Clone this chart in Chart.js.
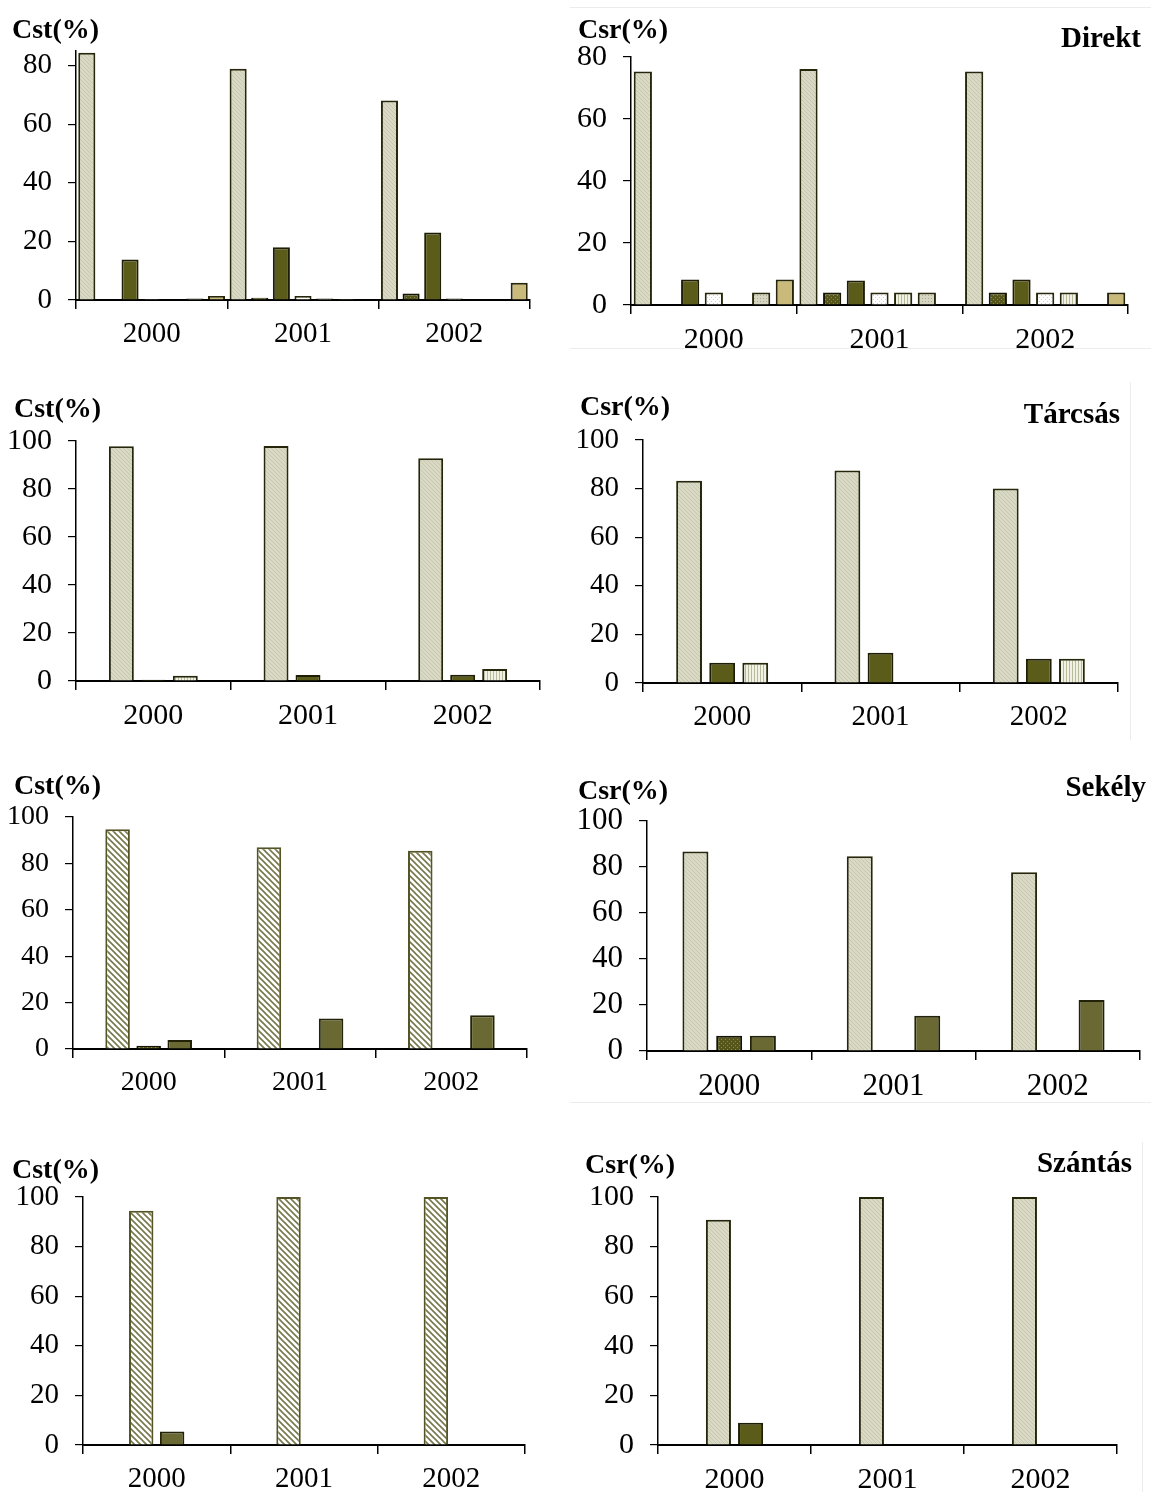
<!DOCTYPE html>
<html>
<head>
<meta charset="utf-8">
<script src="https://cdn.jsdelivr.net/npm/chart.js@4.4.1/dist/chart.umd.min.js"></script>
<style>
  html, body { margin: 0; padding: 0; background: #ffffff; }
  body { width: 1151px; height: 1492px; position: relative; overflow: hidden; }
  canvas { position: absolute; }
  .lbl { position: absolute; font-family: "Liberation Serif", "Times New Roman", serif; font-weight: bold; color: #000; line-height: 1; white-space: nowrap; }
  .frame { position: absolute; background: #ececec; }
</style>
</head>
<body>
<div class="frame" style="left:570px; top:7px; width:581px; height:1px;"></div>
<div class="frame" style="left:570px; top:348px; width:581px; height:1px;"></div>
<div class="frame" style="left:1130px; top:382px; width:1px; height:358px;"></div>
<div class="frame" style="left:570px; top:1102px; width:581px; height:1px;"></div>
<div class="frame" style="left:1142px; top:1142px; width:1px; height:350px;"></div>
<script>
// ---------- DATA ----------
const categories = ['2000', '2001', '2002'];
const yTitleCst = 'Cst(%)';
const yTitleCsr = 'Csr(%)';
const panelNames = ['Direkt', 'Tárcsás', 'Sekély', 'Szántás'];

// series-major arrays: each inner array = one series over 2000, 2001, 2002 (null = no bar)
const direktCst = [
  [84.4, 78.9, 68.1],
  [null, 0.8, 2.2],
  [13.8, 18.0, 23.0],
  [0.3, 1.4, 0.5],
  [null, 0.5, 0.1],
  [0.5, 0.3, null],
  [1.4, null, 5.9]
];
const direktCsr = [
  [75.3, 76.1, 75.3],
  [null, 4.0, 4.0],
  [8.2, 7.9, 8.2],
  [4.0, 4.0, 4.0],
  [null, 4.0, 4.0],
  [4.0, 4.0, null],
  [8.2, null, 4.0]
];
const tarcsasCst = [
  [97.8, 97.9, 92.8],
  [0.5, 2.5, 2.6],
  [2.2, null, 5.0]
];
const tarcsasCsr = [
  [83.2, 87.5, 80.0],
  [8.3, 12.5, 10.0],
  [8.3, null, 10.0]
];
const sekelyCst = [
  [94.7, 87.0, 85.5],
  [1.4, null, null],
  [3.9, 13.1, 14.5]
];
const sekelyCsr = [
  [86.7, 84.7, 77.7],
  [6.6, null, null],
  [6.6, 15.3, 22.2]
];
const szantasCst = [
  [94.5, 100, 100],
  [5.4, null, null]
];
const szantasCsr = [
  [90.8, 100, 100],
  [9.0, null, null]
];

// fill style key per series
const direktStyles = ['A', 'B', 'C', 'D', 'E', 'F', 'G'];
const tarcsasStyles = ['A', 'C', 'E'];
const sekelyCstStyles = ['H', 'B', 'M'];
const sekelyCsrStyles = ['A', 'B', 'M'];
const szantasCstStyles = ['H', 'M'];
const szantasCsrStyles = ['A', 'C'];

// ---------- PATTERNS ----------
function makePattern(size, bg, draw) {
  const c = document.createElement('canvas');
  c.width = size; c.height = size;
  const g = c.getContext('2d');
  g.fillStyle = bg; g.fillRect(0, 0, size, size);
  draw(g, size);
  return g.createPattern(c, 'repeat');
}
const fills = {
  A: makePattern(4, '#d9d9c5', (g) => { g.fillStyle = '#c7c7ae'; g.fillRect(0, 0, 1, 1); g.fillRect(1, 1, 1, 1); g.fillRect(2, 2, 1, 1); g.fillRect(3, 3, 1, 1); }),
  B: makePattern(4, '#56561a', (g) => { g.fillStyle = '#8a8a55'; g.fillRect(0, 0, 1, 1); g.fillRect(2, 2, 1, 1); }),
  C: '#5b5b1a',
  D: makePattern(4, '#ffffff', (g) => { g.fillStyle = '#cfcfc4'; g.fillRect(0, 0, 1, 1); g.fillRect(2, 2, 1, 1); }),
  E: makePattern(3, '#f2f2e4', (g) => { g.fillStyle = '#b9b99b'; g.fillRect(0, 0, 1, 3); }),
  F: makePattern(3, '#d6d6c2', (g) => { g.fillStyle = '#a9a98e'; g.fillRect(0, 0, 1, 1); }),
  G: '#c9b97b',
  H: makePattern(6, '#ffffff', (g, s) => {
    g.strokeStyle = '#77774c'; g.lineWidth = 1.6;
    g.beginPath();
    g.moveTo(-1, -1); g.lineTo(s + 1, s + 1);
    g.moveTo(-1, s - 1); g.lineTo(1, s + 1);
    g.moveTo(s - 1, -1); g.lineTo(s + 1, 1);
    g.stroke();
  }),
  M: '#6a6934'
};
const borders = { A: '#26260a', B: '#141404', C: '#1e1e06', D: '#26260a', E: '#26260a', F: '#26260a', G: '#26260a', H: '#545426', M: '#222208' };

// ---------- LAYOUT (pixel placement only) ----------
const YW = 72, XH = 55, PT = 20, PR = 6;
const panels = [
  { data: direktCst, styles: direktStyles, x0: 76,  x1: 530,  yTop: 51.4, y0: 300,  max: 85,  font: 29, cat: 1.0,  bar: 0.79, title: yTitleCst, tx: 12,  ty: 30 },
  { data: direktCsr, styles: direktStyles, x0: 631, x1: 1128, yTop: 57,   y0: 305,  max: 80,  font: 30, cat: 1.0,  bar: 0.77, title: yTitleCsr, tx: 578, ty: 30, name: panelNames[0], nx: 1141, ny: 39 },
  { data: tarcsasCst, styles: tarcsasStyles, x0: 76, x1: 540, yTop: 441, y0: 681,  max: 100, font: 30, cat: 0.62, bar: 0.78, title: yTitleCst, tx: 14,  ty: 409 },
  { data: tarcsasCsr, styles: tarcsasStyles, x0: 643, x1: 1118, yTop: 440, y0: 683, max: 100, font: 29, cat: 0.627, bar: 0.78, title: yTitleCsr, tx: 580, ty: 407, name: panelNames[1], nx: 1120, ny: 415 },
  { data: sekelyCst, styles: sekelyCstStyles, x0: 73, x1: 527, yTop: 817, y0: 1049, max: 100, font: 28, cat: 0.616, bar: 0.79, title: yTitleCst, tx: 14, ty: 786 },
  { data: sekelyCsr, styles: sekelyCsrStyles, x0: 647, x1: 1140, yTop: 821, y0: 1051, max: 100, font: 31, cat: 0.616, bar: 0.77, title: yTitleCsr, tx: 578, ty: 791, name: panelNames[2], nx: 1146, ny: 788 },
  { data: szantasCst, styles: szantasCstStyles, x0: 83, x1: 525, yTop: 1197, y0: 1445, max: 100, font: 29, cat: 0.42, bar: 0.79, title: yTitleCst, tx: 12, ty: 1170 },
  { data: szantasCsr, styles: szantasCsrStyles, x0: 658, x1: 1117, yTop: 1197, y0: 1445, max: 100, font: 30, cat: 0.42, bar: 0.78, title: yTitleCsr, tx: 585, ty: 1165, name: panelNames[3], nx: 1132, ny: 1164 }
];

const FONT = '"Liberation Serif", "Times New Roman", serif';

function addText(text, size, x, cy, alignRight) {
  const d = document.createElement('div');
  d.className = 'lbl';
  d.textContent = text;
  d.style.fontSize = size + 'px';
  d.style.top = (cy - size * 0.55) + 'px';
  if (alignRight) { d.style.right = (1151 - x) + 'px'; } else { d.style.left = x + 'px'; }
  document.body.appendChild(d);
}

panels.forEach((p) => {
  const cv = document.createElement('canvas');
  const left = p.x0 - YW, top = p.yTop - PT;
  const w = Math.round(p.x1 - p.x0 + YW + PR);
  const h = Math.round(p.y0 - p.yTop + PT + XH);
  cv.width = w; cv.height = h;
  cv.style.left = left + 'px'; cv.style.top = top + 'px';
  cv.style.width = w + 'px'; cv.style.height = h + 'px';
  document.body.appendChild(cv);

  const datasets = p.data.map((vals, i) => ({
    data: vals,
    backgroundColor: fills[p.styles[i]],
    borderColor: borders[p.styles[i]],
    borderWidth: 2,
    borderSkipped: 'start',
    categoryPercentage: p.cat,
    barPercentage: p.bar
  }));

  new Chart(cv, {
    type: 'bar',
    data: { labels: categories, datasets },
    options: {
      responsive: false,
      animation: false,
      events: [],
      layout: { padding: { top: PT, right: PR, left: 0, bottom: 0 } },
      plugins: { legend: { display: false }, tooltip: { enabled: false }, title: { display: false } },
      scales: {
        x: {
          offset: true,
          grid: { display: true, offset: true, drawOnChartArea: false, drawTicks: true, tickLength: 9, color: '#000', lineWidth: 1.5 },
          border: { display: true, color: '#000', width: 2 },
          ticks: { color: '#000', font: { family: FONT, size: p.font }, padding: 8, maxRotation: 0 },
          afterFit: (s) => { s.height = XH; s.paddingLeft = 0; s.paddingRight = 0; }
        },
        y: {
          min: 0, max: p.max,
          grid: { display: true, drawOnChartArea: false, drawTicks: true, tickLength: 8, color: '#000', lineWidth: 1.2 },
          border: { display: true, color: '#000', width: 1.5 },
          ticks: { stepSize: 20, includeBounds: false, color: '#000', font: { family: FONT, size: p.font }, padding: 16 },
          afterFit: (s) => { s.width = YW; s.paddingTop = 0; s.paddingBottom = 0; }
        }
      }
    }
  });

  addText(p.title, 28, p.tx, p.ty, false);
  if (p.name) addText(p.name, 29, p.nx, p.ny, true);
});
</script>
</body>
</html>
